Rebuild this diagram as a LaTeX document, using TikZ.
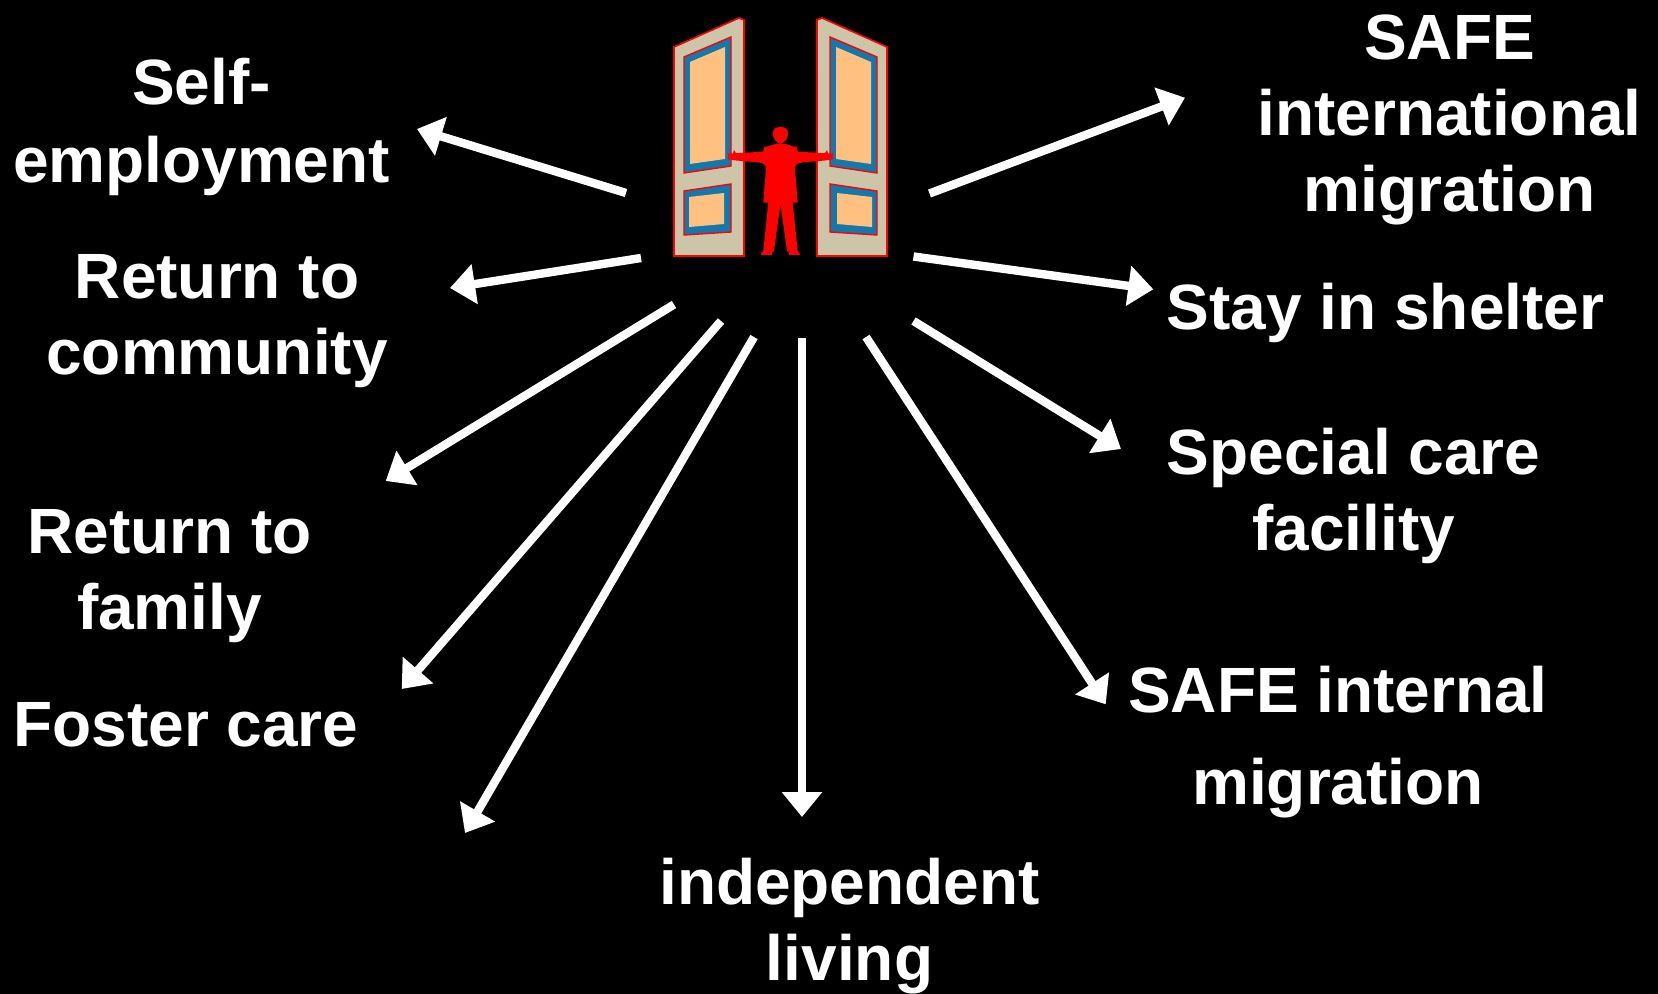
\documentclass[tikz,border=0pt]{standalone}
\usepackage{fontspec}
\setmainfont{Liberation Sans}
\usepackage{xcolor}
\usetikzlibrary{arrows.meta,positioning}
\definecolor{doortan}{RGB}{204,197,168}
\definecolor{panelblue}{RGB}{20,120,170}
\definecolor{panelpeach}{RGB}{255,192,128}
\newcommand{\doorleaf}{%
  \draw[leaf] (674,47) -- (739,18) -- (744,20) -- (744,256) -- (674,256) -- cycle;
  \draw[panel] (684,57) -- (731,37) -- (731,166) -- (684,173) -- cycle;
  \fill[panelpeach] (690,62) -- (725,47) -- (725,159) -- (690,164) -- cycle;
  \draw[panel] (684,191) -- (731,184) -- (731,232) -- (684,235) -- cycle;
  \fill[panelpeach] (689,197) -- (724,193) -- (724,224) -- (689,227) -- cycle;
}

\begin{document}
\begin{tikzpicture}[
  x=0.5pt, y=-0.5pt,
  every node/.style={font=\fontsize{32}{38}\selectfont\bfseries, text=white, align=center, inner sep=0pt},
  leaf/.style={draw=red, fill=doortan, line width=0.8pt},
  panel/.style={draw=red, fill=panelblue, line width=0.7pt},
  arr/.style={-{Triangle[length=12.5pt,width=19.5pt]}, draw=white, line width=4.2pt}
]
\fill[black] (0,0) rectangle (1658,994);
\useasboundingbox (0,0) rectangle (1658,994);

% doors
\doorleaf
\begin{scope}[shift={(1561,0)},xscale=-1]
  \doorleaf
\end{scope}

% man in the doorway
\fill[red] (780.5,127) .. controls (787,127) and (788,130) .. (788,134)
  .. controls (788,139) and (785,142) .. (780.5,144)
  .. controls (776,142) and (773,139) .. (773,134)
  .. controls (773,130) and (774,127) .. (780.5,127) -- cycle;
\fill[red] (775.5,144) -- (767.3,146.7) -- (764,146.7) -- (763.3,151.7)
  -- (736,153.2) -- (734,150) -- (733,153.3) -- (728,153.3) -- (728,159.3) -- (736,160.5)
  -- (758,162.3) .. controls (764,163) and (766,165) .. (766,168.3) -- (763.3,202.7)
  -- (768.3,202.7) -- (763.3,251) -- (761,254) -- (761,255) -- (772,255) -- (772,252) -- (774,251) -- (780.5,204)
  -- (787,251) -- (789,252) -- (789,255) -- (800,255) -- (800,254) -- (797.7,251) -- (792.7,202.7) -- (797.7,202.7)
  -- (795,168.3) .. controls (795,165) and (797,163) .. (803,162.3) -- (825,160.5)
  -- (833,159.3) -- (833,153.3) -- (828,153.3) -- (827,150) -- (825,153.2) -- (797.7,151.7)
  -- (797,146.7) -- (793.7,146.7) -- (785.5,144) -- cycle;

% labels
\node[font=\fontsize{32}{39}\selectfont\bfseries] (selfemp) at (201.5,127) {Self-\\employment};
\node (community) at (217,321) {Return to\\community};
\node (family) at (169.5,576) {Return to\\family};
\node (foster) at (186,724.5) {Foster care};
\node (indep) at (849.5,926) {independent\\living};
\node (intl) at (1449.5,120) {SAFE\\international\\migration};
\node (shelter) at (1385.5,313) {Stay in shelter};
\node (special) at (1353.5,496) {Special care\\facility};
\node[font=\fontsize{32}{46}\selectfont\bfseries] (internal) at (1338,742.5) {SAFE internal\\migration};

% arrow ends
\coordinate (a1) at (626,193);   \coordinate (b1) at (417,129);
\coordinate (a2) at (641,258);   \coordinate (b2) at (450,288);
\coordinate (a3) at (674,304.5); \coordinate (b3) at (385.7,481);
\coordinate (a4) at (721,321);   \coordinate (b4) at (401.7,689);
\coordinate (a5) at (754,337);   \coordinate (b5) at (465,833);
\coordinate (a6) at (802,338);   \coordinate (b6) at (802,817);
\coordinate (a7) at (866,337);   \coordinate (b7) at (1105.7,704.3);
\coordinate (a8) at (913.5,321); \coordinate (b8) at (1121,449);
\coordinate (a9) at (913.5,256.5); \coordinate (b9) at (1153.3,289.3);
\coordinate (a10) at (929.5,193.5); \coordinate (b10) at (1185,97.7);

\draw[arr] (a1) -- (b1);
\draw[arr] (a2) -- (b2);
\draw[arr] (a3) -- (b3);
\draw[arr] (a4) -- (b4);
\draw[arr] (a5) -- (b5);
\draw[arr] (a6) -- (b6);
\draw[arr] (a7) -- (b7);
\draw[arr] (a8) -- (b8);
\draw[arr] (a9) -- (b9);
\draw[arr] (a10) -- (b10);
\end{tikzpicture}
\end{document}
